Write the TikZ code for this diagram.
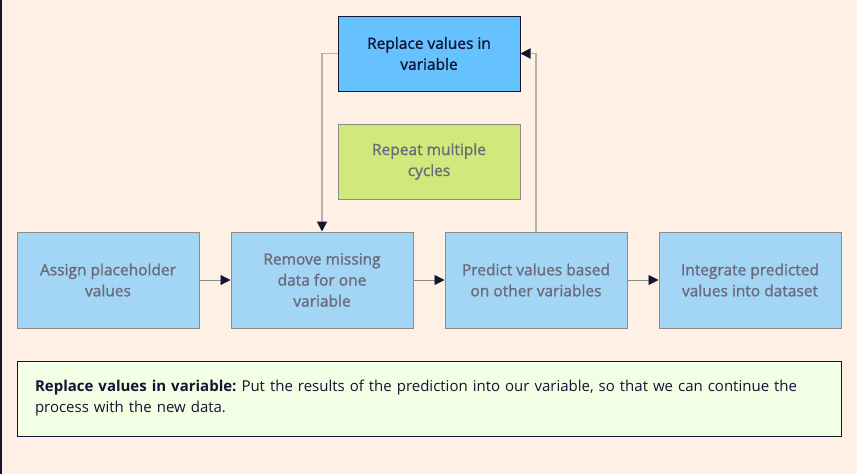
\documentclass[tikz,border=0pt]{standalone}
\usepackage{fontspec}
\setmainfont{Open Sans}
\newfontfamily\boxfont{Open Sans}[FakeBold=1.3]
\usetikzlibrary{arrows.meta}
\frenchspacing
\definecolor{pagebg}{HTML}{FFF0E6}
\definecolor{navy}{HTML}{141433}
\definecolor{topblue}{HTML}{66C2FF}
\definecolor{rowblue}{HTML}{A3D5F5}
\definecolor{cyclegreen}{HTML}{D1E87B}
\definecolor{notegreen}{HTML}{F3FFE4}
\definecolor{boxgray}{HTML}{8C8C8C}
\definecolor{textgray}{HTML}{6A6A7C}
\definecolor{loopgray}{HTML}{B8B0AA}
\tikzset{
	stepbox/.style={draw=boxgray, line width=1pt, fill=rowblue, text=textgray, align=center,
		minimum width=182pt, minimum height=96pt, inner sep=0pt,
		font=\boxfont\fontsize{15.5}{21}\selectfont},
	flow/.style={draw=boxgray, line width=0.8pt, -{Triangle[length=10pt, width=10pt, color=navy]}},
	loop/.style={draw=loopgray, line width=1.8pt, -{Triangle[length=10pt, width=10pt, color=navy]}}
}
\begin{document}
\begin{tikzpicture}[x=1pt, y=-1pt]
		\fill [pagebg] (0,0) rectangle (857,474);
		\useasboundingbox (0,0) rectangle (857,474);
		\draw [navy, line width=1.5pt] (0.75,0) -- (0.75,474);
		\node [stepbox, fill=topblue, draw=navy, text=navy, minimum height=75pt] (replace) at (429,53.5) {Replace values in\\variable};
		\node [stepbox, fill=cyclegreen, minimum height=75pt] (repeat) at (429,161.5) {Repeat multiple\\cycles};
		\node [stepbox] (assign) at (108,280) {Assign placeholder\\values};
		\node [stepbox] (remove) at (322,280) {Remove missing\\data for one\\variable};
		\node [stepbox] (predict) at (536,280) {Predict values based\\on other variables};
		\node [stepbox] (integrate) at (750,280) {Integrate predicted\\values into dataset};
		\draw [flow] (assign) -- (remove);
		\draw [flow] (remove) -- (predict);
		\draw [flow] (predict) -- (integrate);
		\draw [loop] (replace.west) -| (remove.north);
		\draw [loop] (predict.north) |- (replace.east);
		\node [draw=navy, line width=1pt, fill=notegreen, text=navy, minimum width=824pt, minimum height=75pt,
			text width=788pt, inner xsep=18pt, align=left, font=\fontsize{15}{21}\selectfont] (note) at (429,398.5)
			{\textbf{Replace values in variable:} Put the results of the prediction into our variable, so that we can continue the\\process with the new data.};
	\end{tikzpicture}
\end{document}
